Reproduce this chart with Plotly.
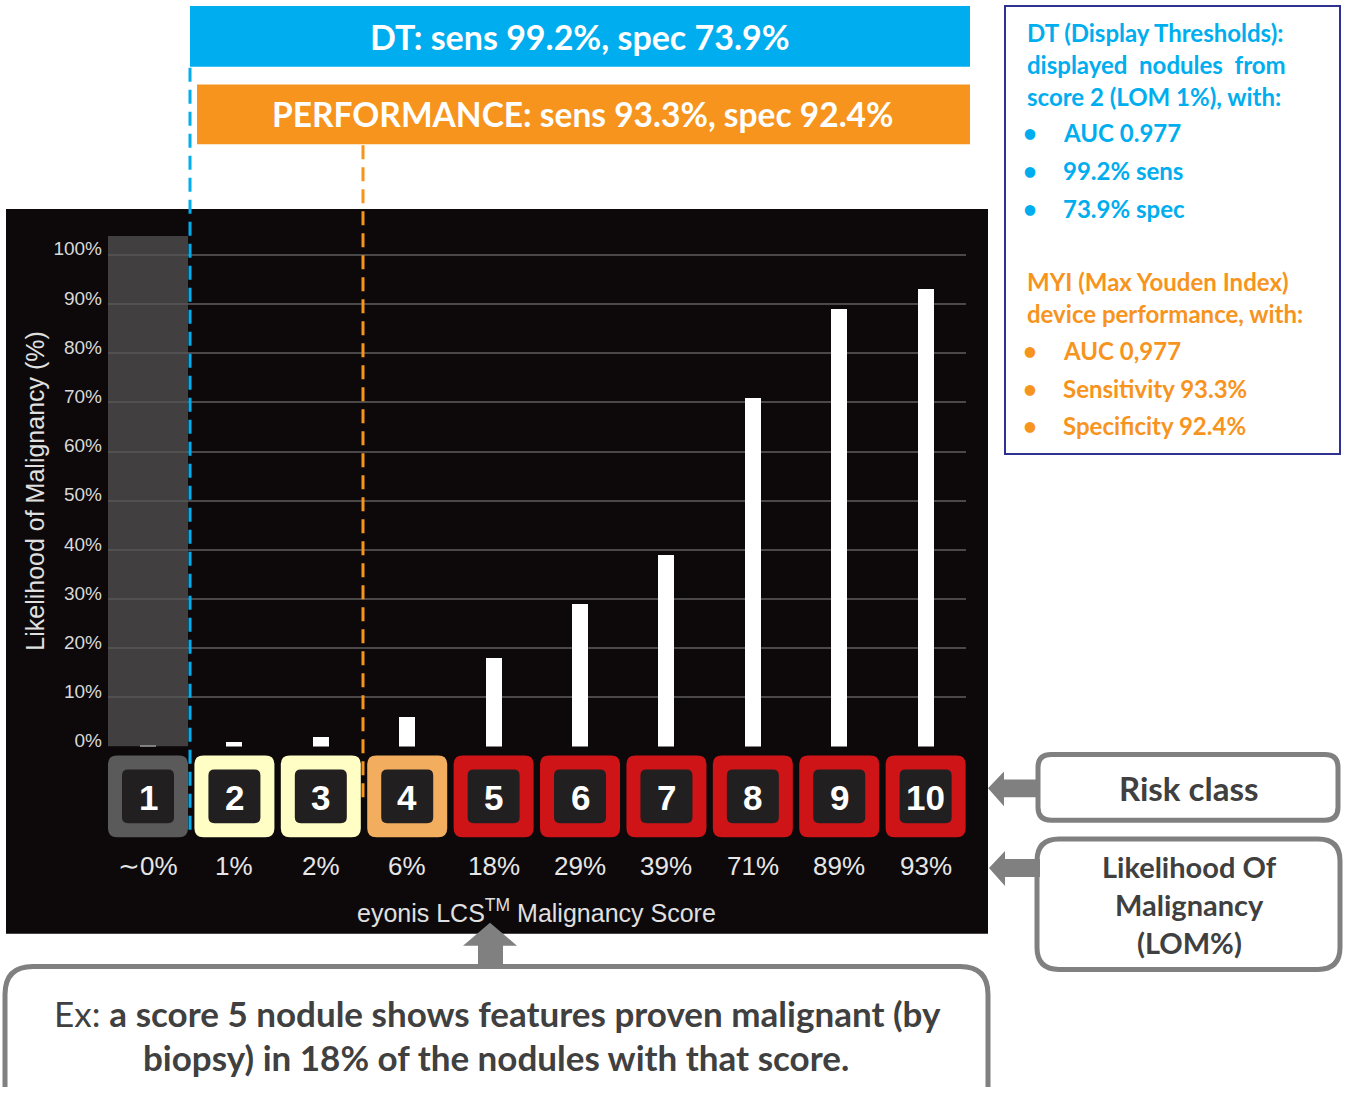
import plotly.graph_objects as go

# ---- data ----
scores = [1, 2, 3, 4, 5, 6, 7, 8, 9, 10]
lom_values = [0.4, 1, 2, 6, 18, 29, 39, 71, 89, 93]
lom_labels = ["∼0%", "1%", "2%", "6%", "18%", "29%", "39%", "71%", "89%", "93%"]
class_colors = ["#5b5a5a", "#fffec4", "#fffec4", "#f2ae5e",
                "#cf1418", "#cf1418", "#cf1418", "#cf1418", "#cf1418", "#cf1418"]
y_ticks = list(range(0, 101, 10))
y_tick_labels = [f"{v}%" for v in y_ticks]

dt_banner = "DT: sens 99.2%, spec 73.9%"
perf_banner = "PERFORMANCE: sens 93.3%, spec 92.4%"
dt_lines = ["DT (Display Thresholds):", "displayed\u00a0\u00a0nodules\u00a0\u00a0from",
            "score 2 (LOM 1%), with:"]
dt_bullets = ["AUC 0.977", "99.2% sens", "73.9% spec"]
myi_lines = ["MYI (Max Youden Index)", "device performance, with:"]
myi_bullets = ["AUC 0,977", "Sensitivity 93.3%", "Specificity 92.4%"]

W, H = 1345, 1087
BLUE = "#00aeef"
ORANGE = "#f7941d"
GREY = "#808080"
DARK_TXT = "#404040"
SANS = "Liberation Sans, Arial, sans-serif"
HUMAN = "Lato, Open Sans, sans-serif"

# axis geometry (pixels)
X_DOM_PX = (108, 966)
Y_DOM_PX = (750, 237)           # bottom, top
X_RANGE = [0.537, 10.467]
Y_RANGE = [0, 103.85]


def X(p):
    return p / W


def Y(p):
    return 1 - p / H


def cat_px(c):
    """pixel x of a category position on the main x axis"""
    f = (c - X_RANGE[0]) / (X_RANGE[1] - X_RANGE[0])
    return X_DOM_PX[0] + f * (X_DOM_PX[1] - X_DOM_PX[0])


def rrect(x0, y0, x1, y1, r):
    return (f"M {X(x0 + r)},{Y(y0)} L {X(x1 - r)},{Y(y0)} "
            f"Q {X(x1)},{Y(y0)} {X(x1)},{Y(y0 + r)} L {X(x1)},{Y(y1 - r)} "
            f"Q {X(x1)},{Y(y1)} {X(x1 - r)},{Y(y1)} L {X(x0 + r)},{Y(y1)} "
            f"Q {X(x0)},{Y(y1)} {X(x0)},{Y(y1 - r)} L {X(x0)},{Y(y0 + r)} "
            f"Q {X(x0)},{Y(y0)} {X(x0 + r)},{Y(y0)} Z")


def poly(pts):
    return "M " + " L ".join(f"{X(a)},{Y(b)}" for a, b in pts) + " Z"


def label(text, xpx, ypx, size, color, family=HUMAN, xanchor="center", **kw):
    d = dict(xref="paper", yref="paper", x=X(xpx), y=Y(ypx), text=text,
             showarrow=False, xanchor=xanchor, yanchor="middle",
             font=dict(family=family, size=size, color=color))
    d.update(kw)
    return d


fig = go.Figure()
fig.add_trace(go.Bar(
    x=scores, y=lom_values, width=0.185,
    marker=dict(color="#ffffff", line=dict(width=0)),
    hoverinfo="skip", showlegend=False,
))

shapes = []
annotations = []

# dark chart panel
shapes.append(dict(type="rect", xref="paper", yref="paper", layer="below",
                   x0=X(6), x1=X(988), y0=Y(938), y1=Y(210),
                   fillcolor="#0d090a", line=dict(width=0)))

# greyed-out column over score 1
shapes.append(dict(type="rect", xref="x", yref="y", layer="above",
                   x0=X_RANGE[0], x1=1.463, y0=Y_RANGE[0], y1=Y_RANGE[1],
                   fillcolor="rgba(86,84,85,0.72)", line=dict(width=0)))

# top banners
shapes.append(dict(type="rect", xref="paper", yref="paper",
                   x0=X(190), x1=X(970), y0=Y(67), y1=Y(6),
                   fillcolor=BLUE, line=dict(width=0)))
shapes.append(dict(type="rect", xref="paper", yref="paper",
                   x0=X(197), x1=X(970), y0=Y(145), y1=Y(85),
                   fillcolor=ORANGE, line=dict(width=0)))
annotations.append(label(f"<b>{dt_banner}</b>", 580, 37, 34, "white"))
annotations.append(label(f"<b>{perf_banner}</b>", 583, 115, 33.5, "white"))

# threshold dashed lines
shapes.append(dict(type="line", xref="paper", yref="paper", layer="above",
                   x0=X(190), x1=X(190), y0=Y(68), y1=Y(834),
                   line=dict(color=BLUE, width=3, dash="14px,8px")))
shapes.append(dict(type="line", xref="paper", yref="paper", layer="above",
                   x0=X(363), x1=X(363), y0=Y(146), y1=Y(804),
                   line=dict(color=ORANGE, width=3, dash="14px,8px")))

# risk class tiles, LOM labels
for s, col, lab in zip(scores, class_colors, lom_labels):
    cx = cat_px(s)
    shapes.append(dict(type="path", xref="paper", yref="paper",
                       path=rrect(cx - 40, 759, cx + 40, 841, 9),
                       fillcolor=col, line=dict(width=0)))
    shapes.append(dict(type="path", xref="paper", yref="paper",
                       path=rrect(cx - 26, 773, cx + 26, 827, 6),
                       fillcolor="#221f20", line=dict(width=0)))
    annotations.append(dict(xref="x", yref="paper", x=s, y=Y(801),
                            xanchor="center", yanchor="middle",
                            text=f"<b>{s}</b>", showarrow=False,
                            font=dict(family=SANS, size=35, color="white")))
    annotations.append(dict(xref="x", yref="paper", x=s, y=Y(870),
                            xanchor="center", yanchor="middle",
                            text=lab, showarrow=False,
                            font=dict(family=SANS, size=26, color="#e6e6e6")))

# axis titles
annotations.append(label("eyonis LCS<sup>TM</sup> Malignancy Score", 536, 915,
                         25, "#e0e0e0", family=SANS))
annotations.append(label("Likelihood of Malignancy (%)", 35, 493, 25, "#e0e0e0",
                         family=SANS, textangle=-90))

# side info box
shapes.append(dict(type="rect", xref="paper", yref="paper",
                   x0=X(1005), x1=X(1340), y0=Y(456), y1=Y(6),
                   fillcolor="white", line=dict(color="#2e3192", width=2)))

SIDE_SIZE = 24
for t, yy in zip(dt_lines, [33, 65, 97]):
    annotations.append(label(f"<b>{t}</b>", 1025, yy, SIDE_SIZE, BLUE, xanchor="left"))
for t, yy in zip(dt_bullets, [133, 171, 209]):
    annotations.append(label("<b>•</b>", 1030, yy, SIDE_SIZE, BLUE))
    annotations.append(label(f"<b>{t}</b>", 1061, yy, SIDE_SIZE, BLUE, xanchor="left"))
for t, yy in zip(myi_lines, [283, 315]):
    annotations.append(label(f"<b>{t}</b>", 1025, yy, SIDE_SIZE, ORANGE, xanchor="left"))
for t, yy in zip(myi_bullets, [352, 390, 427]):
    annotations.append(label("<b>•</b>", 1030, yy, SIDE_SIZE, ORANGE))
    annotations.append(label(f"<b>{t}</b>", 1061, yy, SIDE_SIZE, ORANGE, xanchor="left"))

# callout boxes and arrows
shapes.append(dict(type="path", xref="paper", yref="paper",
                   path=rrect(1038, 758, 1338, 824, 13),
                   fillcolor="white", line=dict(color=GREY, width=5)))
annotations.append(label("<b>Risk class</b>", 1188, 792, 33, DARK_TXT))
shapes.append(dict(type="path", xref="paper", yref="paper",
                   path=rrect(1037, 843, 1340, 974, 22),
                   fillcolor="white", line=dict(color=GREY, width=5)))
for t, yy in zip(["Likelihood Of", "Malignancy", "(LOM%)"], [871, 909, 947]):
    annotations.append(label(f"<b>{t}</b>", 1189, yy, 29, DARK_TXT))

shapes.append(dict(type="path", xref="paper", yref="paper",
                   path=rrect(5, 971, 988, 1140, 28),
                   fillcolor="white", line=dict(color=GREY, width=5)))
annotations.append(label("Ex: <b>a score 5 nodule shows features proven malignant (by</b>",
                         497, 1018, 35, DARK_TXT))
annotations.append(label("<b>biopsy) in 18% of the nodules with that score.</b>",
                         496, 1062, 35, DARK_TXT))

arrow_style = dict(type="path", xref="paper", yref="paper",
                   fillcolor=GREY, line=dict(width=0))
shapes.append(dict(arrow_style, path=poly([(988, 792), (1004, 775), (1004, 783),
                                           (1040, 783), (1040, 801), (1004, 801),
                                           (1004, 810)])))
shapes.append(dict(arrow_style, path=poly([(989, 872), (1005, 855), (1005, 863),
                                           (1040, 863), (1040, 881), (1005, 881),
                                           (1005, 890)])))
shapes.append(dict(arrow_style, path=poly([(490, 927), (517, 950), (503, 950),
                                           (503, 973), (478, 973), (478, 950),
                                           (463, 950)])))

fig.update_layout(
    width=W, height=H,
    margin=dict(l=0, r=0, t=0, b=0),
    paper_bgcolor="white",
    plot_bgcolor="rgba(0,0,0,0)",
    showlegend=False,
    bargap=0,
    xaxis=dict(domain=[X(X_DOM_PX[0]), X(X_DOM_PX[1])], range=X_RANGE,
               showgrid=False, zeroline=False, showticklabels=False,
               showline=False, fixedrange=True),
    yaxis=dict(domain=[Y(Y_DOM_PX[0]), Y(Y_DOM_PX[1])], range=Y_RANGE,
               tickvals=y_ticks, ticktext=y_tick_labels,
               showgrid=True, gridcolor="#4a4848", gridwidth=2,
               zeroline=False, showline=False, ticks="",
               ticklabelshift=-6, ticklabelstandoff=5,
               tickfont=dict(family=SANS, size=19, color="#d9d9d9"),
               fixedrange=True),
    shapes=shapes,
    annotations=annotations,
)

fig.write_html("out.html")
